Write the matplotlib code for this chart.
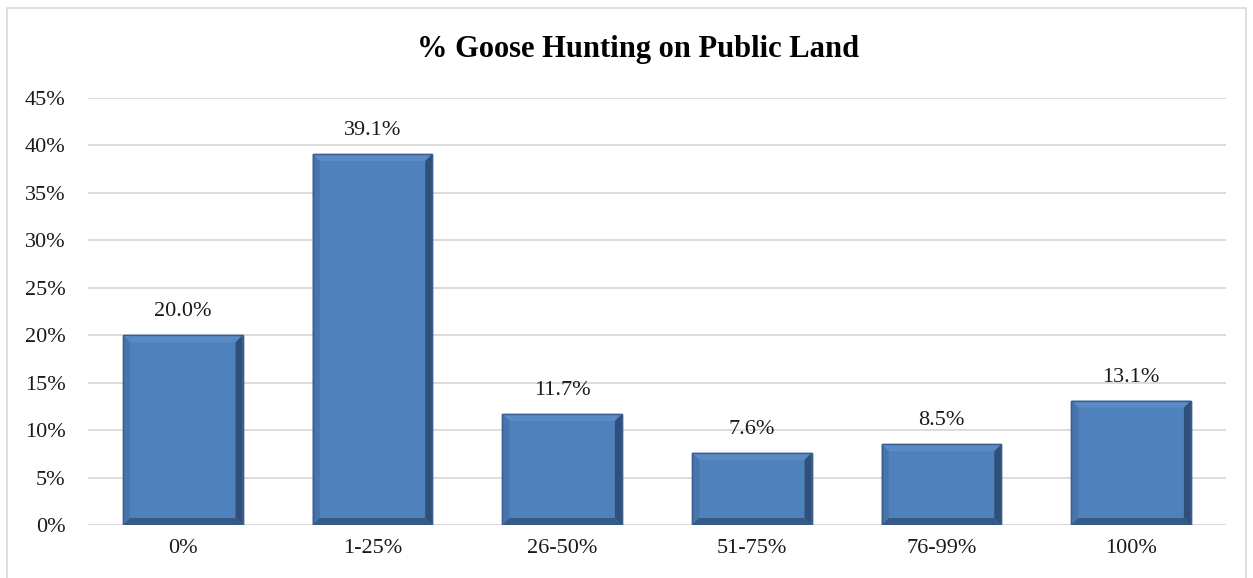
import matplotlib
matplotlib.use("Agg")
import matplotlib.pyplot as plt
from matplotlib.patches import Polygon, Rectangle
from matplotlib.ticker import PercentFormatter

categories = ["0%", "1-25%", "26-50%", "51-75%", "76-99%", "100%"]
shares = [20.0, 39.1, 11.7, 7.6, 8.5, 13.1]

plt.rcParams['font.family'] = ['Liberation Serif', 'DejaVu Serif']

W, H = 1253, 578
fig = plt.figure(figsize=(W / 100, H / 100), dpi=100)
ax = fig.add_axes([88 / W, 53 / H, (1226 - 88) / W, (525 - 98) / H])

# chart frame
fig.patches.append(Rectangle((7 / W, -0.05), (1246 - 7) / W, (H - 8) / H + 0.05,
                             transform=fig.transFigure, fill=False,
                             edgecolor='#D9D9D9', linewidth=1.2))

x = list(range(len(categories)))
bw = 0.63
face = '#4F81BD'
bars = ax.bar(x, shares, width=bw, color=face, edgecolor='#3A5F8C',
              linewidth=1.0, zorder=3)

ax.set_xlim(-0.5, len(categories) - 0.5)
ax.set_ylim(0, 45)

# bevel depth in data units (about 7 px)
ax_w = (1226 - 88)
ax_h = (525 - 98)
dx = 7 * len(categories) / ax_w
dy = 7 * 45 / ax_h

for b in bars:
    x0, x1 = b.get_x(), b.get_x() + b.get_width()
    y0, y1 = 0, b.get_height()
    ix0, ix1, iy0, iy1 = x0 + dx, x1 - dx, y0 + dy, y1 - dy
    bands = [
        ([(x0, y1), (x1, y1), (ix1, iy1), (ix0, iy1)], '#5A8BC6'),
        ([(x0, y0), (x0, y1), (ix0, iy1), (ix0, iy0)], '#4674AC'),
        ([(x1, y0), (x1, y1), (ix1, iy1), (ix1, iy0)], '#30507A'),
        ([(x0, y0), (x1, y0), (ix1, iy0), (ix0, iy0)], '#365A88'),
    ]
    for pts, c in bands:
        ax.add_patch(Polygon(pts, closed=True, facecolor=c, edgecolor='none', zorder=4))
    ax.add_patch(Rectangle((x0, y0), x1 - x0, y1 - y0, fill=False,
                           edgecolor='#3A5F8C', linewidth=1.0, zorder=5))

for xi, v in zip(x, shares):
    ax.annotate(f"{v:.1f}%", (xi, v), xytext=(0, 10), textcoords='offset points',
                ha='center', va='bottom', fontsize=16, color='#1a1a1a')

ax.yaxis.set_major_formatter(PercentFormatter(decimals=0))
ax.set_yticks(range(0, 46, 5))
ax.set_xticks(x)
ax.set_xticklabels(categories)
ax.tick_params(length=0, labelsize=16, colors='#1a1a1a')
ax.tick_params(axis='y', pad=16)
ax.tick_params(axis='x', pad=10)
ax.grid(axis='y', color='#D9D9D9', linewidth=1.3, zorder=0)
ax.set_axisbelow(True)
for s in ax.spines.values():
    s.set_visible(False)

fig.text(638 / W, 1 - 50 / H, "% Goose Hunting on Public Land",
         ha='center', va='center', fontsize=22, fontweight='bold')

fig.savefig("out.png", dpi=100)
